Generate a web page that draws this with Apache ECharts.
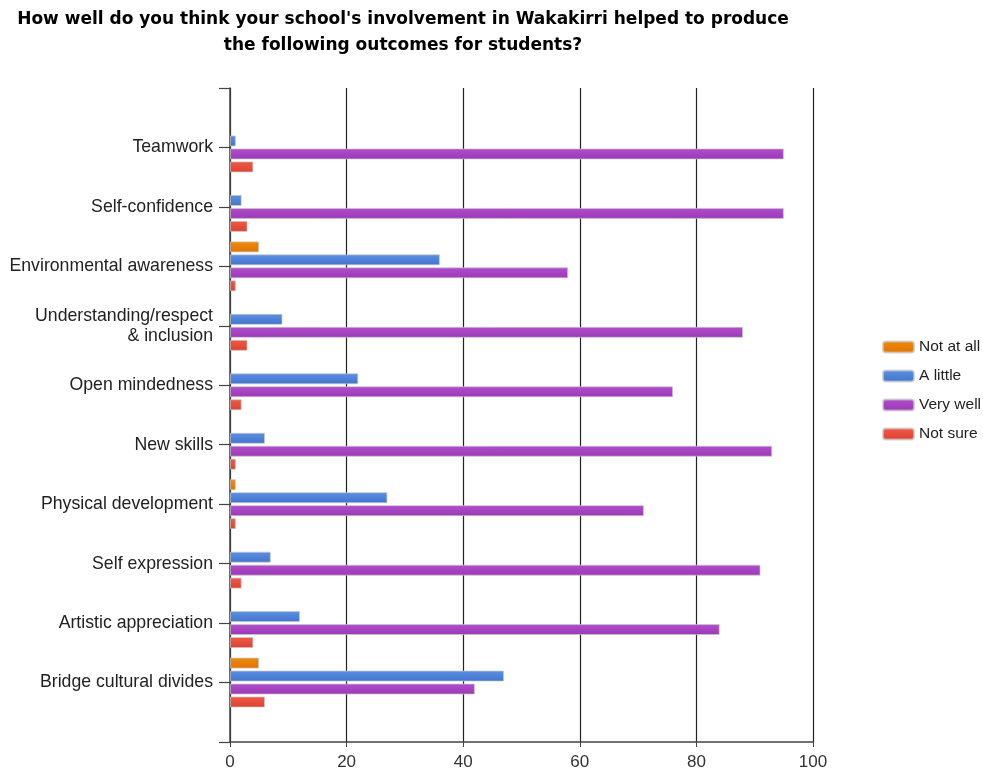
<!DOCTYPE html>
<html>
<head>
<meta charset="utf-8">
<script src="https://cdn.jsdelivr.net/npm/echarts@6/dist/echarts.min.js"></script>
<style>
html,body{margin:0;padding:0;background:#fff;}
#chart{width:983px;height:774px;}
</style>
</head>
<body>
<div id="chart"></div>
<script>
const categories = [
  'Teamwork',
  'Self-confidence',
  'Environmental awareness',
  'Understanding/respect\n& inclusion',
  'Open mindedness',
  'New skills',
  'Physical development',
  'Self expression',
  'Artistic appreciation',
  'Bridge cultural divides'
];
const notAtAll = [0, 0, 5, 0, 0, 0, 1, 0, 0, 5];
const aLittle  = [1, 2, 36, 9, 22, 6, 27, 7, 12, 47];
const veryWell = [95, 95, 58, 88, 76, 93, 71, 91, 84, 42];
const notSure  = [4, 3, 1, 3, 2, 1, 1, 2, 4, 6];
const xTicks = [0, 20, 40, 60, 80, 100];

const seriesDefs = [
  {name: 'Not at all', data: notAtAll, top: '#f08a10', bottom: '#e07400'},
  {name: 'A little',   data: aLittle,  top: '#5c90e4', bottom: '#4373cc'},
  {name: 'Very well',  data: veryWell, top: '#b04ecc', bottom: '#9a38b6'},
  {name: 'Not sure',   data: notSure,  top: '#f05a46', bottom: '#dc4030'}
];

// pad half a band above and below the categories (empty slots)
const yCats = [''].concat(categories, ['']);
function pad(arr) { return [null].concat(arr.map(v => v === 0 ? null : v), [null]); }

const chart = echarts.init(document.getElementById('chart'), null, {renderer: 'canvas'});
chart.setOption({
  backgroundColor: '#ffffff',
  animation: false,
  title: {
    text: "How well do you think your school's involvement in Wakakirri helped to produce\nthe following outcomes for students?",
    left: 398,
    top: 2,
    textAlign: 'center',
    textStyle: {
      fontFamily: 'DejaVu Sans',
      fontWeight: 'bold',
      fontSize: 17,
      lineHeight: 26,
      color: '#000'
    }
  },
  legend: {
    orient: 'vertical',
    left: 882,
    top: 339,
    padding: 0,
    itemWidth: 31,
    itemHeight: 11,
    itemGap: 13,
    textStyle: {fontFamily: 'Liberation Sans', fontSize: 15.5, color: '#222'},
    data: seriesDefs.map(s => s.name)
  },
  grid: {left: 230, right: 170, top: 88, bottom: 32, containLabel: false},
  xAxis: {
    type: 'value',
    min: xTicks[0],
    max: xTicks[xTicks.length - 1],
    interval: 20,
    axisLine: {show: true, lineStyle: {color: '#444', width: 1.5}},
    axisTick: {show: true, length: 5, lineStyle: {color: '#444'}},
    axisLabel: {fontFamily: 'Liberation Sans', fontSize: 17, color: '#333', margin: 12},
    splitLine: {show: true, lineStyle: {color: '#222', width: 1.2}}
  },
  yAxis: {
    type: 'category',
    inverse: true,
    boundaryGap: false,
    data: yCats,
    axisLine: {show: true, lineStyle: {color: '#444', width: 1.5}},
    axisTick: {show: true, length: 11, lineStyle: {color: '#444', width: 1.2}},
    axisLabel: {fontFamily: 'Liberation Sans', fontSize: 17.7, color: '#222', margin: 17, lineHeight: 20, interval: 0},
    splitLine: {show: false}
  },
  series: seriesDefs.map(s => ({
    name: s.name,
    type: 'bar',
    data: pad(s.data),
    barWidth: 11,
    barGap: '18%',
    itemStyle: {
      color: {type: 'linear', x: 0, y: 0, x2: 0, y2: 1, colorStops: [
        {offset: 0, color: s.top}, {offset: 1, color: s.bottom}
      ]},
      borderColor: 'rgba(200,200,200,0.7)',
      borderWidth: 1
    }
  }))
});
</script>
</body>
</html>
